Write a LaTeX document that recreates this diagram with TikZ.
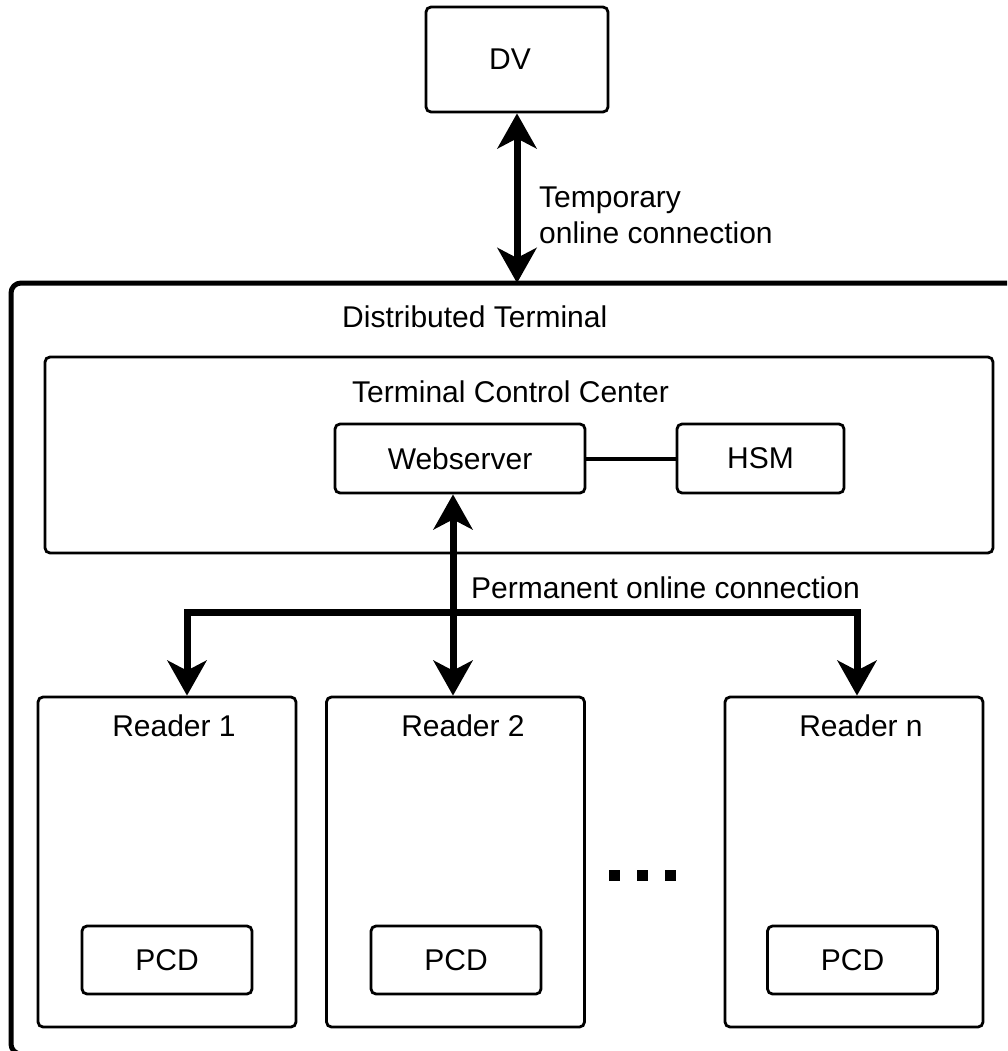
\documentclass[tikz,border=0pt]{standalone}
\usepackage{fontspec}
\setmainfont{Liberation Sans}
\usetikzlibrary{arrows.meta}
\begin{document}
\begin{tikzpicture}[x=1pt,y=-1pt,
  font=\fontsize{30}{36}\selectfont,
  box/.style={draw, line width=2.8pt, rounded corners=5pt, inner sep=0pt},
  outerbox/.style={draw, line width=5pt, rounded corners=10pt},
  txt/.style={inner sep=0pt, anchor=base west},
  ctxt/.style={inner sep=0pt, anchor=base},
  bigarrow/.style={line width=7pt, line join=miter,
    >={Stealth[length=35pt,width=39pt,inset=10pt]}},
  thinlink/.style={line width=4pt},
  dot/.style={fill=black, draw=none, minimum size=11pt, inner sep=0pt}]
\useasboundingbox (0,0) rectangle (1007,1051);
\fill[white] (0,0) rectangle (1007,1051);
% outer frame (cropped at right and bottom)
\begin{scope}
  \clip (0,0) rectangle (1007,1051);
  \draw[outerbox] (11,283) rectangle (1022,1054);
\end{scope}
\node[txt] (dt) at (342,327) {Distributed Terminal};
% DV
\node[box, minimum width=182pt, minimum height=105pt] (dv) at (517,59.5) {};
\node[inner sep=0pt] (dvt) at (510,59.5) {DV};
\coordinate (dvend) at (517,283);
\draw[bigarrow,<->] (dv.south) -- (dvend);
\node[txt] (tmp1) at (539,207) {Temporary};
\node[txt] (tmp2) at (539,243) {online connection};
% Terminal Control Center
\node[box, minimum width=948pt, minimum height=196pt] (tcc) at (519,455) {};
\node[txt] (tcct) at (352,402) {Terminal Control Center};
\node[box, minimum width=250pt, minimum height=69pt] (ws) at (460,458.5) {Webserver};
\node[box, minimum width=167pt, minimum height=69pt] (hsm) at (760.5,458.5) {HSM};
\draw[thinlink] (ws.east) -- (hsm.west);
% Readers
\node[box, minimum width=258pt, minimum height=330pt] (r1) at (167,862) {};
\node[box, minimum width=258pt, minimum height=330pt] (r2) at (455.5,862) {};
\node[box, minimum width=258pt, minimum height=330pt] (rn) at (854,862) {};
\node[ctxt] (r1t) at (174,736) {Reader 1};
\node[ctxt] (r2t) at (463,736) {Reader 2};
\node[ctxt] (rnt) at (861,736) {Reader n};
\node[box, minimum width=170pt, minimum height=68pt] (p1) at (167,960) {PCD};
\node[box, minimum width=170pt, minimum height=68pt] (p2) at (456,960) {PCD};
\node[box, minimum width=170pt, minimum height=68pt] (pn) at (852.5,960) {PCD};
% Permanent connection
\coordinate (j2) at (453,612);
\coordinate (b1) at (187,612);
\coordinate (bn) at (857,612);
\draw[bigarrow,<->] (j2 |- ws.south) -- (j2 |- r2.north);
\draw[bigarrow,<->] (b1 |- r1.north) -- (b1) -- (bn) -- (bn |- rn.north);
\node[txt] (perm) at (471,598) {Permanent online connection};
% dots
\node[dot] (d1) at (614.5,875.5) {};
\node[dot] (d2) at (642.5,875.5) {};
\node[dot] (d3) at (670.5,875.5) {};
\end{tikzpicture}
\end{document}
